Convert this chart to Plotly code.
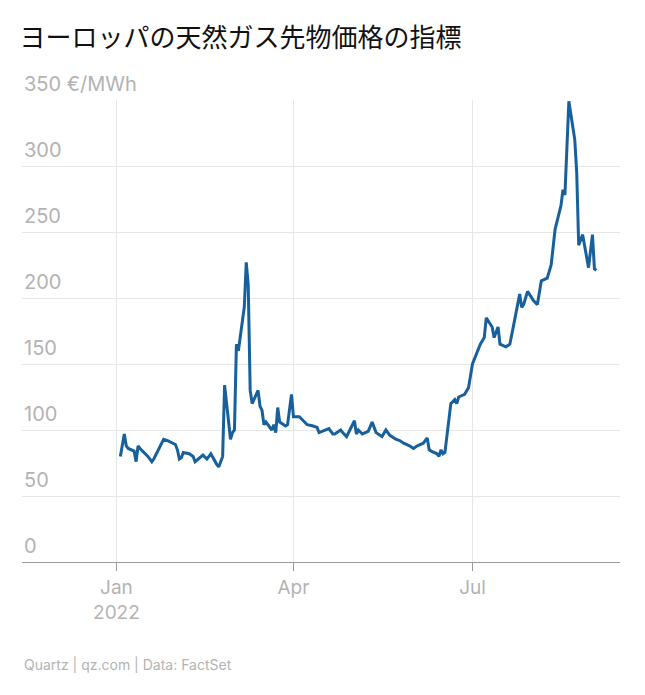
import plotly.graph_objects as go

dates = ["2022-01-03","2022-01-04","2022-01-05","2022-01-06","2022-01-07","2022-01-10","2022-01-11","2022-01-12","2022-01-13",
         "2022-01-17","2022-01-19","2022-01-20","2022-01-24","2022-01-25","2022-01-27","2022-01-31","2022-02-01","2022-02-02",
         "2022-02-03","2022-02-04","2022-02-07","2022-02-09","2022-02-10","2022-02-14","2022-02-16","2022-02-17","2022-02-18",
         "2022-02-21","2022-02-22","2022-02-23","2022-02-24","2022-02-25","2022-02-28","2022-03-01","2022-03-02","2022-03-03",
         "2022-03-04","2022-03-07","2022-03-08","2022-03-09","2022-03-10","2022-03-11","2022-03-14","2022-03-15","2022-03-16",
         "2022-03-17","2022-03-18","2022-03-21","2022-03-22","2022-03-23","2022-03-24","2022-03-25","2022-03-28","2022-03-29",
         "2022-03-30","2022-03-31","2022-04-01","2022-04-04","2022-04-06","2022-04-08","2022-04-11","2022-04-13","2022-04-14",
         "2022-04-19","2022-04-21","2022-04-22","2022-04-25","2022-04-26","2022-04-28","2022-05-02","2022-05-03","2022-05-04",
         "2022-05-06","2022-05-09","2022-05-11","2022-05-13","2022-05-16","2022-05-18","2022-05-20","2022-05-23","2022-05-25",
         "2022-05-27","2022-05-30","2022-06-01","2022-06-03","2022-06-06","2022-06-08","2022-06-09","2022-06-10","2022-06-13",
         "2022-06-14","2022-06-15","2022-06-16","2022-06-17","2022-06-20","2022-06-22","2022-06-23","2022-06-24","2022-06-27",
         "2022-06-29","2022-07-01","2022-07-05","2022-07-07","2022-07-08","2022-07-11","2022-07-12","2022-07-14","2022-07-15",
         "2022-07-18","2022-07-20","2022-07-22","2022-07-25","2022-07-26","2022-07-27","2022-07-28","2022-07-29","2022-08-01",
         "2022-08-03","2022-08-05","2022-08-08","2022-08-10","2022-08-11","2022-08-12","2022-08-15","2022-08-16","2022-08-17",
         "2022-08-18","2022-08-19","2022-08-22","2022-08-23","2022-08-24","2022-08-26","2022-08-29","2022-08-30","2022-08-31",
         "2022-09-01","2022-09-02","2022-09-05","2022-09-06","2022-09-07"]
prices = [80,90,97,88,86,84,76,88,86,
          80,76,78,90,93,92,89,85,78,
          79,83,82,80,76,81,78,80,82,
          74,72,76,80,134,93,98,100,165,
          160,193,227,210,130,120,130,118,115,
          104,106,100,104,98,117,106,103,104,
          117,127,110,110,107,104,103,102,98,
          101,97,97,100,98,95,107,97,100,
          97,99,106,98,95,100,96,93,92,
          90,88,86,88,90,94,85,84,82,
          80,85,82,83,120,123,120,125,127,
          132,150,165,170,185,178,170,178,165,
          163,165,180,203,193,195,200,205,198,
          195,213,215,225,240,252,270,282,
          278,315,349,320,295,240,248,
          223,235,248,222,221]
y_ticks = [0, 50, 100, 150, 200, 250, 300, 350]
y_labels = ["0", "50", "100", "150", "200", "250", "300", "350 €/MWh"]

fig = go.Figure(go.Scatter(x=dates, y=prices, mode="lines", cliponaxis=False,
                           line=dict(color="#17609c", width=3)))

grey = "#b3b3b3"
fig.update_layout(
    width=645, height=695,
    margin=dict(l=14, r=33, t=92, b=141),
    paper_bgcolor="white", plot_bgcolor="white",
    font=dict(family="Noto Sans CJK JP", color=grey),
    showlegend=False,
    title=dict(text="ヨーロッパの天然ガス先物価格の指標", x=0.018, y=0.97, yanchor="top",
               font=dict(size=26, color="#111111")),
    xaxis=dict(range=["2021-11-14", "2022-09-14"], automargin=False,
               tickvals=["2022-01-01", "2022-04-01", "2022-07-01"],
               ticktext=["Jan<br>2022", "Apr", "Jul"],
               showgrid=True, gridcolor="#e6e6e6", gridwidth=1,
               showline=True, linecolor="#999999", linewidth=1,
               ticks="outside", ticklen=8, tickcolor="#999999",
               tickfont=dict(size=19, color=grey, family="Inter"), zeroline=False),
    yaxis=dict(range=[0, 350], automargin=False,
               tickvals=y_ticks, ticktext=y_labels, showticklabels=False,
               showgrid=True, gridcolor="#e6e6e6", zeroline=False),
    annotations=[dict(text=lab, x=0, xref="paper", y=v, yref="y", xanchor="left",
                      yanchor="bottom", yshift=2, showarrow=False,
                      font=dict(size=20, color=grey, family="Inter"))
                 for v, lab in zip(y_ticks, y_labels)] +
                [dict(text="Quartz | qz.com | Data: FactSet", xref="paper", yref="paper",
                      x=0.0, y=-0.2, xanchor="left", yanchor="top", showarrow=False,
                      font=dict(size=14, color=grey, family="Inter"))],
)
fig.write_html("out.html")
